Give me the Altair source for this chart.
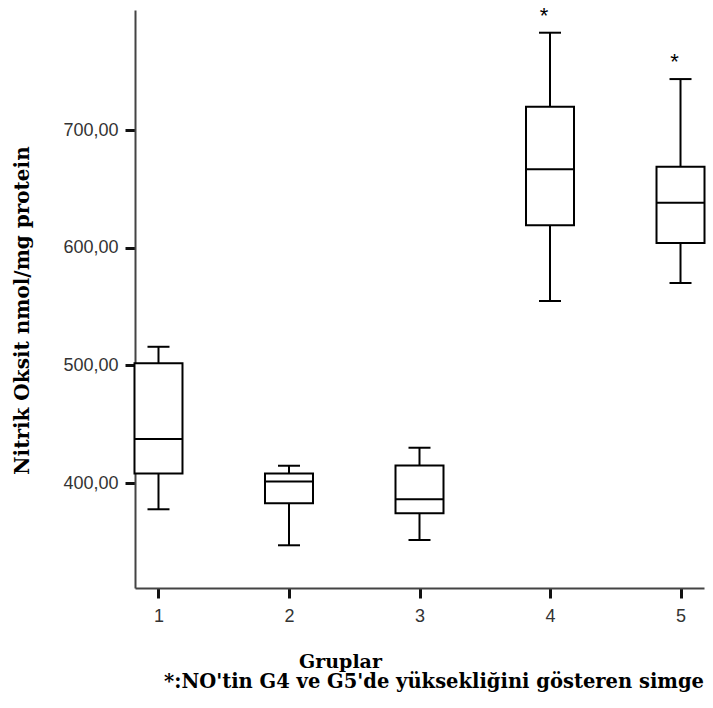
import altair as alt
import pandas as pd

# --- data ---
groups = ["1", "2", "3", "4", "5"]
whisker_low = [377.7, 347.1, 351.6, 554.7, 570.0]
q1 = [408.2, 382.8, 374.3, 619.0, 604.0]
median = [437.4, 401.4, 386.2, 666.6, 638.2]
q3 = [501.7, 408.2, 415.0, 719.8, 668.8]
whisker_high = [515.8, 414.7, 430.0, 782.7, 743.3]
stars = ["", "", "", "*", "*"]
y_ticks = [400, 500, 600, 700]
y_domain = [310.8, 802.0]

y_title = "Nitrik Oksit nmol/mg protein"
x_title = "Gruplar"
footnote = "*:NO'tin G4 ve G5'de yüksekliğini gösteren simge"

df = pd.DataFrame(dict(grup=groups, lo=whisker_low, q1=q1, med=median,
                       q3=q3, hi=whisker_high, star=stars))

serif = "DejaVu Serif"
sans = "Liberation Sans"

x_enc = alt.X(
    "grup:O",
    scale=alt.Scale(type="point", padding=0.18),
    axis=alt.Axis(
        title=x_title, labelAngle=0, titleFont=serif, titleFontWeight="bold",
        titleFontSize=19, titleColor="black", titleX=205, titleY=79,
        titleAlign="center", titleBaseline="alphabetic", labelPadding=9,
    ),
)
y_scale = alt.Scale(domain=y_domain, nice=False, zero=False)


def yq(field, with_axis=False):
    if with_axis:
        return alt.Y(
            f"{field}:Q", scale=y_scale,
            axis=alt.Axis(
                values=y_ticks, title=y_title,
                labelExpr="replace(format(datum.value, '.2f'), '.', ',')",
                titleFont=serif, titleFontWeight="bold", titleFontSize=20,
                titleColor="black", titleAngle=270, titleX=-113, titleY=300,
                titleAlign="center", titleBaseline="middle", labelPadding=7,
            ),
        )
    return alt.Y(f"{field}:Q", scale=y_scale)


base = alt.Chart(df)

whisk_lo = base.mark_rule(color="black", strokeWidth=2).encode(
    x=x_enc, y=yq("lo", True), y2="q1:Q")
whisk_hi = base.mark_rule(color="black", strokeWidth=2).encode(
    x=x_enc, y=yq("q3"), y2="hi:Q")
box = base.mark_bar(size=48, fill="white", stroke="black", strokeWidth=2).encode(
    x=x_enc, y=yq("q1"), y2="q3:Q")
med = base.mark_tick(size=48, thickness=2, color="black", opacity=1).encode(
    x=x_enc, y=yq("med"))
cap_lo = base.mark_tick(size=22, thickness=2, color="black", opacity=1).encode(
    x=x_enc, y=yq("lo"))
cap_hi = base.mark_tick(size=22, thickness=2, color="black", opacity=1).encode(
    x=x_enc, y=yq("hi"))
star = base.mark_text(font=sans, fontSize=22, color="black", dx=-6, dy=-10,
                      baseline="alphabetic").encode(
    x=x_enc, y=yq("hi"), text="star:N")

note = alt.Chart(pd.DataFrame({"t": [footnote]})).mark_text(
    font=serif, fontWeight="bold", fontSize=19.5, color="black",
    align="left", baseline="alphabetic",
).encode(x=alt.value(29), y=alt.value(678), text="t:N")

chart = (
    alt.layer(whisk_lo, whisk_hi, box, med, cap_lo, cap_hi, star, note)
    .properties(
        width=569, height=578,
        autosize=alt.AutoSizeParams(type="none"),
        padding={"left": 135, "top": 10, "right": 9, "bottom": 120},
        background="white",
    )
    .configure_view(stroke=None)
    .configure_axis(
        grid=False, domainColor="#444", domainWidth=2, tickColor="#111",
        tickWidth=3, tickSize=10, labelFont=sans, labelFontSize=18,
        labelColor="#333",
    )
)

chart.save("out.html", embed_options={"renderer": "svg", "actions": False})
